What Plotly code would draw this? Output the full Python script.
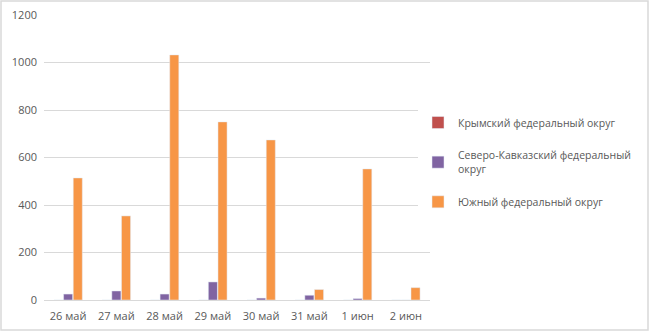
import plotly.graph_objects as go

categories = ["26 май", "27 май", "28 май", "29 май", "30 май", "31 май", "1 июн", "2 июн"]
crimea = [0, 0, 0, 0, 0, 0, 0, 0]
north_caucasus = [25, 38, 25, 76, 8, 20, 6, 0]
south = [514, 354, 1032, 750, 674, 44, 552, 52]
y_ticks = [0, 200, 400, 600, 800, 1000, 1200]

W, H = 650, 332
L, R, T, B = 44, 220, 15, 32
pw, ph = W - L - R, H - T - B

fig = go.Figure()
fig.add_bar(x=categories, y=crimea, name="Крымский федеральный округ",
            marker_color="#C0504D", legendgroup="a")
fig.add_bar(x=categories, y=north_caucasus, name="Северо-Кавказский федеральный<br>округ",
            marker_color="#8064A2", legendgroup="b")
fig.add_bar(x=categories, y=south, name="Южный федеральный округ",
            marker_color="#F79646", legendgroup="c")

def px_x(p):
    return (p - L) / pw

def px_y(p):
    return (H - B - p) / ph

fig.update_layout(
    width=W, height=H,
    margin=dict(l=L, r=R, t=T, b=B, autoexpand=False),
    paper_bgcolor="white", plot_bgcolor="white",
    barmode="group", bargap=0.4, bargroupgap=0.06,
    font=dict(family="Open Sans, Liberation Sans, sans-serif", size=11, color="#595959"),
    showlegend=True,
    legend=dict(x=px_x(418), y=px_y(108), xanchor="left", yanchor="top",
                traceorder="grouped", tracegroupgap=15,
                font=dict(size=10.5, color="#595959"),
                itemwidth=30),
    xaxis=dict(showgrid=False, showline=True, linecolor="#d9d9d9", linewidth=1,
               ticks="", ticklabelstandoff=6, tickfont=dict(size=11, color="#595959")),
    yaxis=dict(range=[0, 1200], tickvals=y_ticks, showgrid=True, gridcolor="#d9d9d9",
               zeroline=False, showline=False, ticks="", ticklen=0, ticklabelstandoff=6,
               tickfont=dict(size=11, color="#595959")),
    shapes=[dict(type="rect", xref="paper", yref="paper",
                 x0=px_x(1), x1=px_x(648), y0=px_y(330), y1=px_y(1),
                 line=dict(color="#d9d9d9", width=1.5))],
)

fig.write_html("out.html")
